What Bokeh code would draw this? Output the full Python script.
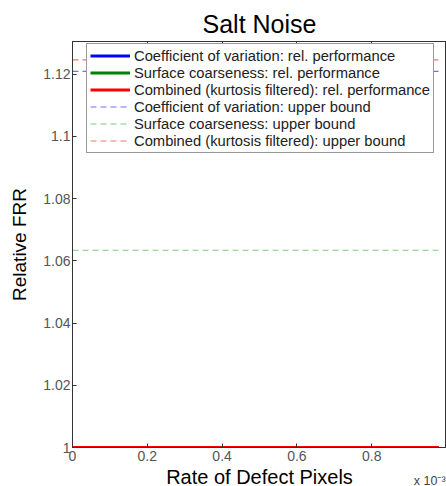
import json
from bokeh.plotting import figure
from bokeh.models import LinearAxis, Range1d, FixedTicker, Legend, LegendItem, CustomJSTickFormatter
from bokeh.embed import file_html
from bokeh.resources import INLINE

# data (x in units of 1e-3)
x = [0.0, 0.98]
cov_rel = [1.0, 1.0]
coarse_rel = [1.0, 1.0]
comb_rel = [1.0, 1.0]
cov_upper = [1.1209, 1.1209]
coarse_upper = [1.0634, 1.0634]
comb_upper = [1.1246, 1.1246]

x_ticks = [0, 0.2, 0.4, 0.6, 0.8]
y_ticks = [1.0, 1.02, 1.04, 1.06, 1.08, 1.1, 1.12]
x_scale_label = "x 10\u207b\u00b3"
x_scale_pos = [0.96]

FONT = "Liberation Sans"

p = figure(width=446, height=486, output_backend="svg", toolbar_location=None,
           x_range=Range1d(0, 1.0), y_range=Range1d(1.0, 1.1305),
           min_border_left=72, min_border_right=0, min_border_top=41, min_border_bottom=39,
           title="Salt Noise")
p.frame_width = 374
p.frame_height = 406
p.title.align = "center"
p.title.text_font = FONT
p.title.text_font_size = "25px"
p.title.text_font_style = "normal"
p.title.text_color = "black"
p.title.standoff = 8

p.grid.visible = False
p.outline_line_color = "#333333"
p.background_fill_color = "white"

for ax in (p.xaxis[0], p.yaxis[0]):
    ax.major_tick_in = 4
    ax.major_tick_out = 0
    ax.minor_tick_in = 0
    ax.minor_tick_out = 0
    ax.axis_line_color = "#333333"
    ax.major_tick_line_color = "#333333"
    ax.major_label_text_font = FONT
    ax.major_label_text_font_size = "14px"
    ax.major_label_text_color = "#555555"
    ax.axis_label_text_font = FONT
    ax.axis_label_text_font_style = "normal"
    ax.axis_label_text_color = "black"

p.yaxis[0].axis_label_text_font_size = "19px"
p.xaxis[0].ticker = FixedTicker(ticks=x_ticks)
p.yaxis[0].ticker = FixedTicker(ticks=y_ticks)
p.yaxis[0].formatter = CustomJSTickFormatter(code="return (Math.round(tick*100)/100).toString();")
p.xaxis[0].formatter = CustomJSTickFormatter(code="return (Math.round(tick*10)/10).toString();")
p.yaxis[0].axis_label = "Relative FRR"
p.xaxis[0].major_label_standoff = 3
p.yaxis[0].major_label_standoff = 2
p.yaxis[0].axis_label_standoff = 10

# second bottom axis: carries the "x 10^-3" note and the axis title on one row
xb = LinearAxis(ticker=FixedTicker(ticks=x_scale_pos),
                formatter=CustomJSTickFormatter(code="return %s;" % json.dumps(x_scale_label)),
                major_tick_in=0, major_tick_out=0, minor_tick_in=0, minor_tick_out=0,
                axis_line_color=None, major_tick_line_color=None,
                major_label_text_font=FONT, major_label_text_font_size="12.5px",
                major_label_text_color="#444444", major_label_standoff=10,
                axis_label="Rate of Defect Pixels", axis_label_text_font=FONT,
                axis_label_text_font_size="20px", axis_label_text_font_style="normal",
                axis_label_text_color="black", axis_label_standoff=-25)
p.add_layout(xb, "below")

blank = CustomJSTickFormatter(code="return '';")
top = LinearAxis(ticker=FixedTicker(ticks=x_ticks + [1.0]), major_tick_in=4, major_tick_out=0,
                 minor_tick_in=0, minor_tick_out=0, formatter=blank,
                 axis_line_color="#333333", major_tick_line_color="#333333")
p.add_layout(top, "above")

r1 = p.line(x, cov_rel, line_color="#0000ff", line_width=3)
r2 = p.line(x, coarse_rel, line_color="#008000", line_width=3)
r3 = p.line(x, comb_rel, line_color="#ff0000", line_width=3)
r4 = p.line(x, cov_upper, line_color="#6f6fff", line_width=1.2, line_dash="6 4")
r5 = p.line(x, coarse_upper, line_color="#7fc87f", line_width=1.2, line_dash="6 4")
r6 = p.line(x, comb_upper, line_color="#ff7070", line_width=1.2, line_dash="6 4")

legend = Legend(items=[
    LegendItem(label="Coefficient of variation: rel. performance", renderers=[r1]),
    LegendItem(label="Surface coarseness: rel. performance", renderers=[r2]),
    LegendItem(label="Combined (kurtosis filtered): rel. performance", renderers=[r3]),
    LegendItem(label="Coefficient of variation: upper bound", renderers=[r4]),
    LegendItem(label="Surface coarseness: upper bound", renderers=[r5]),
    LegendItem(label="Combined (kurtosis filtered): upper bound", renderers=[r6]),
], location=(14, 294))
legend.label_text_font = FONT
legend.label_text_font_size = "14.75px"
legend.label_text_color = "#222222"
legend.label_height = 17
legend.glyph_height = 17
legend.glyph_width = 40
legend.label_standoff = 4
legend.spacing = 0
legend.padding = 3
legend.margin = 0
legend.border_line_color = "#333333"
legend.border_line_width = 1
legend.background_fill_alpha = 1
p.add_layout(legend, "center")

open("out.html", "w").write(file_html(p, INLINE))
